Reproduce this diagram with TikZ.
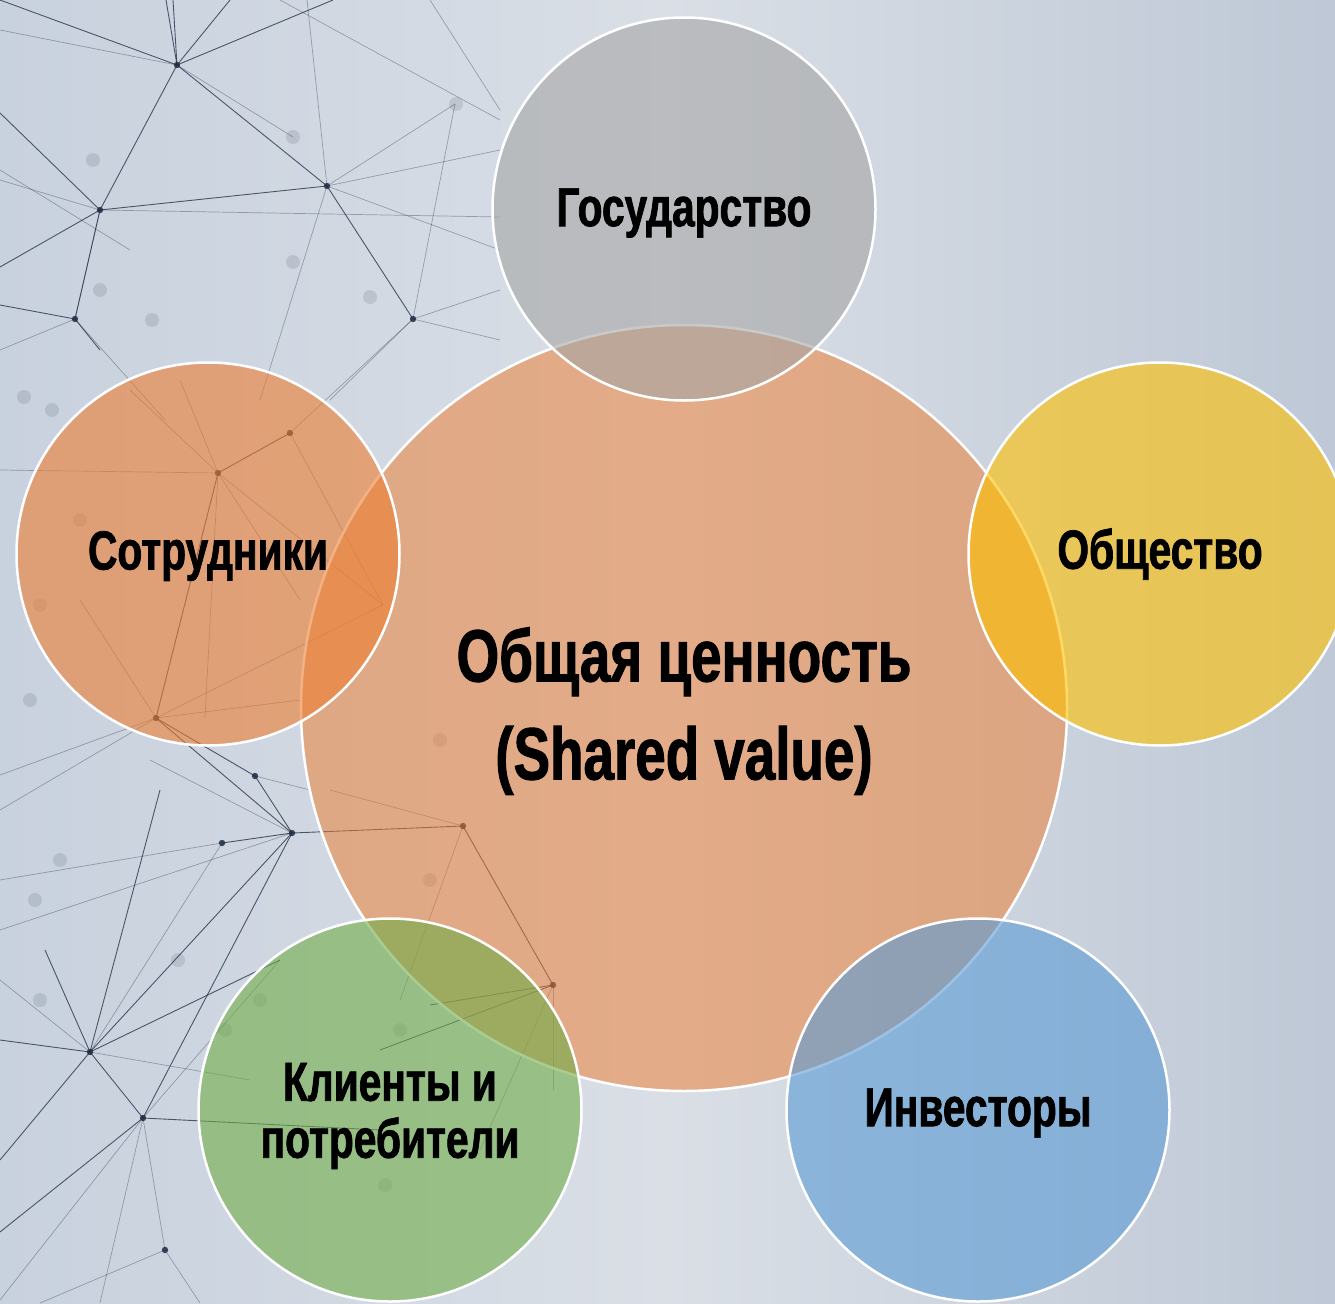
\documentclass[tikz,border=0pt]{standalone}
\usepackage{fontspec}
\newfontfamily\cond[FakeStretch=0.74, BoldFeatures={FakeBold=1.3}]{Liberation Sans}
\definecolor{bgL}{RGB}{200,209,222}
\definecolor{bgM}{RGB}{218,223,230}
\definecolor{bgR}{RGB}{190,200,214}
\definecolor{netc}{RGB}{30,42,65}
\definecolor{corange}{HTML}{ED7D31}
\definecolor{cgray}{HTML}{A5A5A5}
\definecolor{cgold}{HTML}{FFC000}
\definecolor{cblue}{HTML}{5B9BD5}
\definecolor{cgreen}{HTML}{70AD47}
\tikzset{
  netline/.style={draw=netc, line width=0.9pt, draw opacity=0.75},
  netfaint/.style={draw=netc, line width=0.7pt, draw opacity=0.35},
  netdot/.style={fill=netc, fill opacity=0.85},
  blurdot/.style={fill=netc, fill opacity=0.12},
  bigcirc/.style={circle, draw=white, line width=2.5pt, inner sep=0pt, outer sep=0pt, minimum size=766pt, fill=corange, fill opacity=0.52, text opacity=1},
  satcirc/.style={circle, draw=white, line width=2.5pt, inner sep=0pt, outer sep=0pt, minimum size=383pt, fill opacity=0.6},
  sattext/.style={font=\cond\bfseries\fontsize{55}{57}\selectfont, align=center, inner sep=0pt},
}
\begin{document}
\begin{tikzpicture}[x=1pt,y=-1pt]
\useasboundingbox (0,0) rectangle (1335,1303);
% background
\shade[left color=bgL, right color=bgR, middle color=bgM, shading angle=90] (0,0) rectangle (1335,1303);
% network coordinates
\coordinate (A) at (177,65);
\coordinate (B) at (100,210);
\coordinate (C) at (327,186);
\coordinate (D) at (75,319);
\coordinate (E) at (413,319);
\coordinate (F) at (218,473);
\coordinate (F2) at (290,433);
\coordinate (G) at (156,718);
\coordinate (H) at (255,776);
\coordinate (I) at (292,833);
\coordinate (J) at (463,826);
\coordinate (K) at (222,843);
\coordinate (M) at (90,1052);
\coordinate (N) at (143,1118);
\coordinate (O) at (553,985);
\coordinate (P) at (165,1250);
\coordinate (L) at (383,605);
% blurred dots
\foreach \p in {(93,160),(293,137),(456,104),(100,290),(293,262),(370,297),(152,320),(24,397),(52,410),(40,605),(80,520),(30,700),(60,860),(35,900),(178,960),(40,1000),(260,1000),(400,1030),(385,1185),(225,1030),(440,740),(430,880)}
  \fill[blurdot] \p circle (7);
% lines
\draw[netline] (0,0) -- (A) -- (166,0);
\draw[netline] (A) -- (173,0);
\draw[netline] (A) -- (230,0);
\draw[netline] (A) -- (333,0);
\draw[netline] (A) -- (B);
\draw[netline] (A) -- (C);
\draw[netfaint] (A) -- (293,137);
\draw[netfaint] (A) -- (0,30);
\draw[netline] (0,113) -- (B);
\draw[netline] (0,267) -- (B);
\draw[netline] (B) -- (D);
\draw[netline] (B) -- (C);
\draw[netfaint] (B) -- (500,217);
\draw[netfaint] (B) -- (0,180);
\draw[netline] (C) -- (E);
\draw[netfaint] (307,0) -- (C);
\draw[netfaint] (C) -- (455,104);
\draw[netfaint] (C) -- (500,150);
\draw[netfaint] (C) -- (500,250);
\draw[netfaint] (C) -- (260,400);
\draw[netfaint] (E) -- (455,104);
\draw[netfaint] (E) -- (500,290);
\draw[netfaint] (E) -- (500,340);
\draw[netfaint] (E) -- (330,400);
\draw[netfaint] (E) -- (F2);
\draw[netline] (0,305) -- (D);
\draw[netfaint] (D) -- (0,350);
\draw[netline] (D) -- (100,350);
\draw[netfaint] (D) -- (165,420);
\draw[netfaint] (D) -- (B);
\draw[netfaint] (0,170) -- (130,250);
\draw[netfaint] (430,0) -- (500,110);
\draw[netfaint] (280,0) -- (500,120);
% middle section
\draw[netline] (F) -- (F2);
\draw[netline] (F) -- (G);
\draw[netfaint] (F) -- (0,470);
\draw[netfaint] (F) -- (130,390);
\draw[netfaint] (F) -- (180,380);
\draw[netfaint] (F) -- (205,718);
\draw[netfaint] (F) -- (300,600);
\draw[netfaint] (F) -- (L);
\draw[netfaint] (F2) -- (L);
\draw[netfaint] (L) -- (G);
\draw[netline] (G) -- (I);
\draw[netline] (G) -- (H);
\draw[netfaint] (G) -- (0,775);
\draw[netfaint] (G) -- (0,810);
\draw[netfaint] (G) -- (80,600);
\draw[netfaint] (G) -- (300,700);
\draw[netline] (H) -- (I);
\draw[netfaint] (H) -- (310,790);
\draw[netline] (I) -- (J);
\draw[netline] (I) -- (K);
\draw[netline] (I) -- (M);
\draw[netline] (I) -- (N);
\draw[netfaint] (I) -- (0,930);
\draw[netfaint] (I) -- (150,760);
\draw[netline] (J) -- (O);
\draw[netfaint] (J) -- (400,1000);
\draw[netfaint] (J) -- (330,790);
\draw[netline] (O) -- (380,1050);
\draw[netline] (O) -- (430,1005);
\draw[netfaint] (O) -- (553,1090);
\draw[netfaint] (O) -- (480,1150);
\draw[netfaint] (K) -- (0,880);
\draw[netfaint] (K) -- (M);
% bottom-left section
\draw[netline] (M) -- (0,1040);
\draw[netline] (M) -- (0,1160);
\draw[netline] (M) -- (N);
\draw[netline] (M) -- (280,960);
\draw[netline] (M) -- (45,950);
\draw[netline] (M) -- (160,790);
\draw[netfaint] (M) -- (0,980);
\draw[netfaint] (M) -- (250,1080);
\draw[netline] (N) -- (0,1232);
\draw[netline] (N) -- (380,1130);
\draw[netfaint] (N) -- (P);
\draw[netfaint] (N) -- (280,960);
\draw[netfaint] (N) -- (0,1300);
\draw[netfaint] (N) -- (100,1303);
\draw[netfaint] (P) -- (200,1303);
\draw[netfaint] (P) -- (40,1303);
% crisp dots
\foreach \q in {A,B,C,D,E,F,G,H,I,J,K,M,N,O,P,F2}
  \fill[netdot] (\q) circle (3.2);
% central circle
\node[bigcirc] (core) at (684,708) {};
\node[font=\cond\bfseries\fontsize{74}{98}\selectfont, align=center] (coretxt) at (684,711) {Общая ценность\\(Shared value)};
% satellites
\node[satcirc, fill=cgray] (gos) at (684,209) {};
\node[satcirc, fill=corange] (sotr) at (208,554) {};
\node[satcirc, fill=cgold] (obsch) at (1160,554) {};
\node[satcirc, fill=cgreen] (klient) at (390,1110) {};
\node[satcirc, fill=cblue] (invest) at (978,1110) {};
\node[sattext] (gostxt) at ([yshift=-4pt]gos.center) {Государство};
\node[sattext] (sotrtxt) at ([yshift=-2pt]sotr.center) {Сотрудники};
\node[sattext] (obschtxt) at ([yshift=0pt]obsch.center) {Общество};
\node[sattext] (klienttxt) at ([yshift=-6pt]klient.center) {Клиенты и\\потребители};
\node[sattext] (investtxt) at ([yshift=-3pt]invest.center) {Инвесторы};
\end{tikzpicture}
\end{document}
